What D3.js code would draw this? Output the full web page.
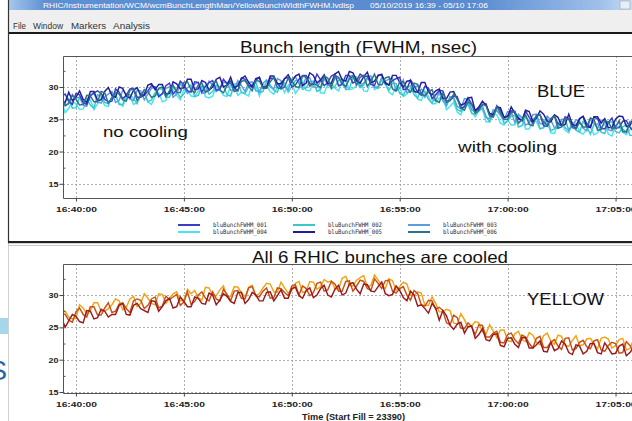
<!DOCTYPE html>
<html><head><meta charset="utf-8">
<script src="https://cdn.jsdelivr.net/npm/d3@7"></script>
<style>html,body{margin:0;padding:0;background:#fff;overflow:hidden}svg{display:block}</style>
</head><body>
<svg id="c" width="632" height="421"></svg>
<script>
// ---------------- data ----------------
const sampleStart = "16:39:20";
const sampleStepSec = 10;
const xTickLabels = ["16:40:00","16:45:00","16:50:00","16:55:00","17:00:00","17:05:00"];
const yTickValues = [15, 20, 25, 30];
const yMinorValues = [17.5, 22.5, 27.5, 32.5];

const blueNames = ["bluBunchFWHM_001","bluBunchFWHM_002","bluBunchFWHM_003","bluBunchFWHM_004","bluBunchFWHM_005","bluBunchFWHM_006"];
const blueColors = ["#3c3cc8","#3cc8c8","#5a9ee0","#48e4f4","#1e1e9c","#2c7484"];

const blu001 = [28.6,28.9,27.8,27.3,29.0,28.8,27.6,27.3,28.6,29.1,29.4,29.0,28.1,27.7,27.8,29.7,29.2,28.2,28.7,29.7,
29.8,28.4,28.4,28.7,29.4,30.2,30.0,28.5,29.0,30.2,30.6,28.9,29.5,30.9,30.3,29.4,29.2,30.8,30.7,29.2,
30.1,30.7,31.0,29.5,29.6,31.2,30.5,30.9,29.9,29.4,31.4,31.2,30.2,30.0,31.0,31.5,29.8,29.8,31.4,31.3,
30.6,29.8,31.3,31.5,30.0,30.3,31.2,31.8,31.8,30.5,30.4,32.0,31.1,30.2,30.7,31.7,32.0,30.2,30.4,31.8,
31.8,30.6,31.0,32.0,31.6,31.7,30.4,30.2,31.8,32.0,30.5,30.3,31.0,31.3,31.5,29.6,29.7,31.1,30.2,29.2,
28.7,30.1,29.8,28.2,28.8,29.5,29.4,27.8,27.9,28.6,28.5,26.7,26.9,28.3,27.4,26.3,26.6,27.3,27.4,25.6,
25.4,27.1,26.4,25.3,25.5,26.3,26.2,25.0,24.8,26.3,25.3,24.4,25.6,25.7,24.0,23.9,25.1,25.6,24.3,24.0,
25.4,25.1,24.0,23.6,25.1,25.5,24.3,23.8,25.3,25.1,23.6,23.5,24.5,25.2,23.6,23.7,24.7,24.8,23.8,23.1,
24.8];
const blu002 = [27.2,27.8,28.2,26.7,26.8,28.4,27.8,28.2,27.2,26.7,28.8,28.6,27.6,27.4,28.4,28.9,27.3,27.3,28.9,28.8,
28.2,27.4,29.0,29.2,27.7,28.0,29.1,29.7,29.7,28.4,28.4,30.0,29.3,28.4,28.9,29.9,30.3,28.5,28.7,30.1,
30.1,28.9,29.3,30.3,30.0,30.1,28.8,28.6,30.4,30.6,29.2,29.0,30.0,30.4,30.8,29.1,29.3,30.9,30.3,29.5,
29.2,30.8,30.6,29.2,30.1,31.0,31.0,29.6,29.9,30.8,30.9,29.3,29.6,31.2,30.6,29.7,30.1,31.0,31.3,29.6,
29.7,31.5,30.9,29.9,30.3,31.2,31.2,30.0,29.8,31.3,30.4,29.5,30.6,30.5,29.0,28.7,29.9,30.2,28.8,28.3,
29.7,29.2,28.1,27.5,28.8,29.0,27.8,27.1,28.5,28.1,26.5,26.2,27.1,27.6,25.9,25.8,26.7,26.6,25.5,24.6,
26.2,26.3,25.9,24.4,24.7,25.5,25.6,23.8,24.0,25.4,24.7,25.0,25.3,23.5,23.7,25.2,23.2,23.5,24.4,24.8,
23.7,23.2,24.5,23.3,23.0,24.7,23.8,22.7,24.2,24.3,23.0,22.8,24.5,24.6,23.1,22.9,23.8,24.2,22.5,22.5,
24.0];
const blu003 = [28.3,27.1,27.6,28.6,28.3,28.4,27.2,27.0,28.8,29.0,27.7,27.5,28.5,28.9,29.3,27.6,27.9,29.5,28.9,28.1,
27.9,29.5,29.4,28.0,28.9,29.8,30.0,28.6,28.9,29.8,30.0,28.4,28.9,30.5,29.9,29.0,29.5,30.4,30.7,29.0,
29.1,30.9,30.3,29.3,29.8,30.7,30.7,29.5,29.5,31.0,30.2,29.3,30.7,30.8,29.4,29.3,30.6,31.1,30.0,29.7,
31.3,31.0,30.0,29.6,31.2,31.6,30.5,30.0,31.6,31.4,30.0,29.9,30.9,31.6,30.2,30.3,31.3,31.4,30.5,29.8,
31.6,31.8,31.5,30.1,30.6,31.5,31.7,29.9,30.1,31.5,30.9,31.2,31.4,29.4,29.8,31.1,29.1,29.2,30.0,30.2,
29.1,28.4,29.7,28.3,27.8,29.3,28.4,27.1,28.5,28.4,27.0,26.6,28.2,28.1,26.5,26.1,26.9,27.1,25.3,25.1,
26.5,26.3,25.6,24.9,26.2,26.2,24.5,25.8,25.3,24.1,24.4,25.7,25.8,24.3,24.3,25.5,24.9,23.7,23.6,25.0,
25.0,23.3,24.0,24.9,24.7,23.6,23.2,25.0,24.4,23.6,24.8,25.0,23.4,23.2,24.0,24.5,23.5,23.0,24.7,24.5,
23.1];
const blu004 = [27.8,26.0,26.7,27.7,27.4,26.5,26.6,27.8,28.0,26.5,27.4,28.3,27.1,27.0,28.6,28.7,27.5,27.0,28.3,28.6,
27.3,27.6,28.7,29.1,27.7,27.3,28.6,29.1,27.7,27.9,29.4,29.5,28.7,28.0,29.6,29.5,28.6,28.5,29.4,30.1,
28.5,28.3,28.6,30.0,29.6,28.7,28.5,30.3,30.1,28.7,29.2,28.9,28.6,30.4,30.1,28.6,30.5,30.2,29.3,28.9,
30.0,30.5,29.1,30.3,30.7,29.0,29.8,30.9,29.5,29.4,30.6,30.8,29.1,29.0,30.5,30.7,29.8,29.4,31.0,31.0,
29.6,29.7,30.3,30.9,29.4,29.3,30.9,29.6,29.9,31.1,30.5,29.2,28.8,30.1,29.9,28.5,28.9,29.9,29.7,28.1,
27.9,29.4,28.5,27.4,27.4,28.3,28.5,26.5,27.0,27.6,26.1,25.7,27.2,27.2,26.1,25.4,26.3,26.6,24.6,24.6,
25.9,25.7,24.4,24.1,24.9,24.1,24.1,25.5,25.2,23.5,23.5,24.9,24.6,23.5,23.7,24.7,22.9,22.8,24.3,24.2,
23.3,22.9,24.4,24.4,23.0,22.7,23.5,24.0,22.6,22.9,23.7,24.3,22.7,22.4,23.9,23.9,23.0,22.6,23.4,23.9,
22.2];
const blu005 = [27.6,27.6,29.2,27.9,28.4,29.4,28.1,27.6,29.3,29.3,27.9,28.0,29.3,29.9,28.7,28.4,30.0,29.8,28.6,28.3,
29.5,29.9,28.7,28.8,30.3,30.5,29.6,30.4,30.4,28.9,29.0,30.8,30.5,29.7,29.9,31.2,31.2,29.6,29.7,31.0,
30.7,29.5,30.0,31.2,31.5,30.0,30.3,31.5,29.9,30.2,31.3,31.7,30.7,30.0,31.3,31.5,30.0,30.0,31.7,31.7,
30.5,30.5,31.3,31.9,30.8,31.7,32.0,30.2,30.6,32.2,31.8,30.6,31.1,31.9,30.5,30.6,32.0,32.4,31.1,30.9,
32.4,32.2,31.0,30.6,31.6,32.3,30.7,30.9,31.8,31.9,30.7,30.3,31.8,31.8,30.7,30.0,30.9,31.0,29.3,29.2,
30.7,30.7,29.2,28.8,29.4,29.7,28.2,28.2,29.2,29.3,28.1,27.2,27.4,28.3,28.4,26.3,26.9,27.8,27.2,25.9,
25.7,26.9,26.8,25.3,25.4,26.9,25.9,25.2,24.8,26.4,26.2,24.7,25.2,26.3,25.8,24.7,24.6,25.7,25.3,24.0,
24.2,25.8,24.2,24.0,25.1,25.4,23.9,23.7,25.4,25.4,24.4,25.1,23.7,23.7,25.0,25.5,25.4,23.9,24.0,25.2,
24.6];
const blu006 = [28.7,27.1,27.4,28.8,28.1,27.2,27.3,28.7,28.6,27.7,27.7,29.3,29.1,27.5,28.3,29.2,28.9,28.0,27.8,29.5,
29.7,27.9,28.6,29.6,29.3,28.4,28.6,29.8,30.0,28.5,29.4,30.3,29.2,29.1,30.7,30.8,29.6,29.1,30.3,30.6,
29.2,29.5,30.5,30.9,29.5,29.1,30.2,30.7,29.3,29.5,30.9,31.0,30.1,29.4,31.0,30.9,29.9,29.8,30.8,31.5,
29.9,29.7,30.0,31.4,31.0,30.1,29.9,31.7,31.5,30.1,30.6,30.3,29.9,31.7,31.4,29.9,31.8,31.5,30.5,30.1,
31.2,31.7,30.3,31.5,31.8,30.1,30.9,32.0,30.4,30.3,31.4,31.6,29.7,29.4,30.8,30.8,29.8,29.2,30.6,30.4,
28.8,28.7,29.2,29.6,27.9,27.6,29.1,27.6,27.9,28.9,28.2,26.7,26.4,27.7,27.3,25.9,26.3,27.3,27.1,25.5,
25.3,26.9,26.0,25.0,25.0,26.0,26.2,24.4,24.9,25.7,24.2,24.0,25.5,25.7,24.6,24.1,25.0,25.5,23.6,23.8,
25.1,25.0,23.7,23.5,24.5,23.8,23.8,25.2,25.0,23.3,23.4,24.8,24.6,23.5,23.8,24.8,23.1,23.0,24.5,24.4,
23.6];

const yellowColors = ["#f0a412","#c8501a","#9a1a1c"];
const yel1 = [27.8,27.5,26.6,26.3,26.4,28.5,28.0,27.1,27.6,28.8,28.8,27.5,27.5,27.9,28.5,29.4,29.1,27.7,28.1,29.4,
29.8,28.2,28.7,30.2,29.5,28.7,28.5,30.2,30.1,28.7,29.5,30.2,30.5,29.1,29.2,30.9,30.2,30.7,29.6,29.2,
31.2,31.1,30.0,29.9,30.8,31.4,29.7,29.8,31.3,31.2,30.4,29.7,31.2,31.5,29.9,30.2,31.1,31.8,31.7,30.5,
30.4,32.0,31.1,30.3,30.7,31.8,32.1,30.4,30.6,32.1,32.0,30.9,31.3,32.4,32.0,32.2,31.0,30.9,32.6,32.9,
31.5,31.4,32.3,32.7,33.0,31.3,31.5,33.1,32.3,31.5,31.0,32.5,32.2,30.7,31.3,32.0,31.7,30.0,29.9,30.5,
30.3,28.4,28.4,29.7,28.7,27.4,27.4,27.8,27.6,25.7,25.5,27.1,26.2,25.0,25.2,25.9,25.7,24.3,24.0,25.4,
24.4,23.4,24.6,24.6,23.0,22.8,24.0,24.4,23.1,22.8,24.2,23.8,22.7,22.3,23.7,24.1,22.9,22.4,23.8,23.6,
22.2,22.1,23.0,23.7,22.2,22.3,23.2,23.3,22.4,21.7,23.3,23.5,23.2,21.8,22.2,23.1,23.3,21.5,21.7,23.1,
22.6];
const yel3 = [27.2,27.0,26.1,25.8,27.4,28.0,27.0,26.6,28.2,28.2,26.9,26.9,28.0,28.8,27.3,27.5,28.6,28.8,27.9,27.3,
29.1,29.4,29.2,27.9,28.4,29.4,29.7,28.0,28.3,29.8,29.3,29.7,30.1,28.4,28.9,30.5,28.6,29.0,30.0,30.5,
29.5,29.1,30.5,29.4,29.1,30.9,30.1,29.1,30.6,30.7,29.5,29.4,31.1,31.3,29.9,29.7,30.6,31.1,29.5,29.6,
31.1,31.0,30.4,29.9,31.4,31.6,30.0,31.4,31.0,29.9,30.4,31.8,32.0,30.6,30.8,32.1,31.7,30.6,30.6,32.1,
32.2,30.6,31.4,32.3,32.1,31.0,30.7,32.5,31.8,31.0,32.2,32.3,30.6,30.3,31.0,31.3,30.0,29.2,30.7,30.2,
28.5,28.3,29.2,29.1,27.8,28.1,27.6,25.7,25.4,26.9,26.5,24.9,24.8,25.7,25.1,23.9,25.4,25.3,23.5,23.5,
24.1,24.4,22.7,22.6,23.9,24.1,23.1,22.5,23.8,23.5,22.5,21.8,23.3,23.6,21.9,21.9,22.7,23.1,22.1,21.6,
23.3,23.4,21.5,21.7,22.7,23.0,22.0,21.7,22.9,23.1,21.5,21.3,22.2,22.7,22.5,21.0,21.1,22.8,22.2,21.2,
21.5];
const yel2 = [26.5,25.0,26.0,27.0,26.7,25.9,25.7,27.6,27.5,26.3,26.5,27.8,27.5,26.6,27.0,27.0,28.4,28.7,27.0,26.9,
28.4,28.7,27.9,27.6,27.3,29.1,29.0,27.5,28.2,29.1,29.5,28.0,28.2,29.7,29.0,28.2,28.2,29.7,29.5,28.7,
28.6,30.3,30.0,28.5,29.2,30.2,29.8,29.0,28.7,30.4,30.4,28.7,29.3,30.4,30.0,29.1,29.1,30.4,30.5,29.1,
29.9,30.8,29.5,29.5,31.0,31.2,29.9,29.5,30.7,31.1,29.6,30.0,31.0,31.5,30.0,29.7,30.9,31.5,30.0,30.3,
31.7,31.9,30.9,30.2,31.7,31.6,30.6,30.5,31.3,32.0,30.2,29.9,30.1,31.4,30.7,29.6,29.1,30.6,30.0,28.3,
28.5,27.9,27.2,28.7,28.0,26.1,27.6,26.8,25.3,24.7,25.5,25.8,24.1,25.1,25.2,23.3,23.9,24.8,23.1,22.9,
23.9,24.0,22.2,22.0,23.3,23.4,22.4,21.9,23.4,23.4,21.8,21.8,22.3,22.9,21.3,21.2,22.7,21.4,21.7,22.9,
22.4,21.1,20.8,22.3,22.1,20.9,21.3,22.5,22.5,21.1,20.9,22.6,21.8,20.9,21.0,22.1,22.4,20.6,21.1,21.9,
20.6];

// ---------------- drawing ----------------
const svg = d3.select("#c");
const SANS = "'Liberation Sans', Arial, Helvetica, sans-serif";
const parse = d3.timeParse("%H:%M:%S");
const t0 = parse(sampleStart);
const times = blu001.map((_, i) => new Date(+t0 + i * sampleStepSec * 1000));
const tickDates = xTickLabels.map(parse);

function txt(g, s, x, y, o) {
  const t = g.append("text").attr("x", x).attr("y", y).text(s)
    .attr("font-family", o.ff || SANS).attr("font-size", o.fs)
    .attr("fill", o.fill || "#111");
  if (o.anchor) t.attr("text-anchor", o.anchor);
  if (o.fw) t.attr("font-weight", o.fw);
  if (o.w) t.attr("textLength", o.w).attr("lengthAdjust", "spacingAndGlyphs");
  return t;
}

// slide background pieces at left
svg.append("rect").attr("x", 0).attr("y", 0).attr("width", 632).attr("height", 421).attr("fill", "#fff");
svg.append("rect").attr("x", 0).attr("y", 318).attr("width", 8).attr("height", 16).attr("fill", "#a6d6ec");
txt(svg, "S", 7, 380, {fs: 27, fill: "#2462a8", anchor: "end"});

// window title bar
const defs = svg.append("defs");
const grad = defs.append("linearGradient").attr("id", "tb").attr("x1", 0).attr("x2", 1).attr("y1", 0).attr("y2", 0);
grad.append("stop").attr("offset", "0").attr("stop-color", "#a9c8ec");
grad.append("stop").attr("offset", "0.06").attr("stop-color", "#5d8fd2");
grad.append("stop").attr("offset", "0.75").attr("stop-color", "#5a8bd0");
grad.append("stop").attr("offset", "0.95").attr("stop-color", "#9fc0ea");
grad.append("stop").attr("offset", "1").attr("stop-color", "#c9dcf3");
svg.append("rect").attr("x", 8).attr("y", 0).attr("width", 624).attr("height", 10).attr("fill", "url(#tb)");
txt(svg, "RHIC/Instrumentation/WCM/wcmBunchLengthMan/YellowBunchWidthFWHM.lvdisp", 43, 8, {fs: 8, fill: "#fff", w: 311});
txt(svg, "05/10/2019 16:39 - 05/10 17:06", 370, 8, {fs: 8, fill: "#fff", w: 118});
svg.append("rect").attr("x", 620).attr("y", 1).attr("width", 10).attr("height", 8)
  .attr("fill", "#e8eef6").attr("stroke", "#8899aa").attr("stroke-width", 0.5);

// menu bar
svg.append("rect").attr("x", 8).attr("y", 10).attr("width", 624).attr("height", 22).attr("fill", "#efefef");
[["File", 13, 13], ["Window", 33, 30], ["Markers", 71, 35], ["Analysis", 113, 37]].forEach(m =>
  txt(svg, m[0], m[1], 29, {fs: 9.5, fill: "#333", w: m[2]}));
svg.append("rect").attr("x", 8).attr("y", 32).attr("width", 624).attr("height", 2).attr("fill", "#1a1a1a");

// window left border and panel separator
svg.append("line").attr("x1", 8.5).attr("x2", 8.5).attr("y1", 0).attr("y2", 243).attr("stroke", "#333").attr("stroke-width", 1.2);
svg.append("line").attr("x1", 8.5).attr("x2", 8.5).attr("y1", 243).attr("y2", 421).attr("stroke", "#cfcfcf").attr("stroke-width", 1);
svg.append("rect").attr("x", 8).attr("y", 241).attr("width", 624).attr("height", 2.2).attr("fill", "#222");
svg.append("line").attr("x1", 8).attr("x2", 632).attr("y1", 245.5).attr("y2", 245.5).attr("stroke", "#c8c8c8");

const xScale = d3.scaleTime().domain([parse("16:39:24"), parse("17:06:08")]).range([63, 640]);

function panel(cfg) {
  const g = svg.append("g");
  const y = d3.scaleLinear().domain(cfg.ydom).range([cfg.bottom, cfg.top]);
  const cid = "clip" + cfg.id;
  defs.append("clipPath").attr("id", cid).append("rect")
    .attr("x", 63).attr("y", cfg.top).attr("width", 640 - 63).attr("height", cfg.bottom - cfg.top);

  // grid
  const grid = g.append("g").attr("stroke", "#9a9a9a").attr("stroke-width", 0.8).attr("stroke-dasharray", "2,2");
  grid.selectAll(".gy").data(yTickValues).join("line")
    .attr("x1", 63).attr("x2", 640).attr("y1", d => Math.round(y(d)) + 0.5).attr("y2", d => Math.round(y(d)) + 0.5);
  grid.selectAll(".gx").data(tickDates).join("line")
    .attr("y1", cfg.top).attr("y2", cfg.bottom).attr("x1", d => Math.round(xScale(d)) + 0.5).attr("x2", d => Math.round(xScale(d)) + 0.5);

  // series
  const line = d3.line().x((d, i) => xScale(times[i])).y(d => y(d));
  const lg = g.append("g").attr("clip-path", `url(#${cid})`);
  cfg.series.forEach(s => {
    lg.append("path").datum(s.values).attr("d", line).attr("fill", "none")
      .attr("stroke", s.color).attr("stroke-width", 1.45).attr("stroke-linejoin", "miter");
  });

  // frame
  g.append("path").attr("d", `M640,${cfg.top + 0.5}H63.5V${cfg.bottom + 0.5}H640`)
    .attr("fill", "none").attr("stroke", "#555").attr("stroke-width", 1);

  // y axis
  const ya = g.append("g").attr("transform", "translate(63.5,0)")
    .call(d3.axisLeft(y).tickValues(yTickValues).tickSize(4).tickPadding(1).tickFormat(d3.format("d")));
  ya.select(".domain").remove();
  ya.selectAll("line").attr("stroke", "#444");
  ya.selectAll("text").attr("font-family", SANS).attr("font-size", 8).attr("font-weight", "bold")
    .attr("fill", "#222").attr("textLength", 10).attr("lengthAdjust", "spacingAndGlyphs");
  const ym = g.append("g").attr("transform", "translate(63.5,0)")
    .call(d3.axisRight(y).tickValues(yMinorValues).tickSize(2).tickFormat(""));
  ym.select(".domain").remove();
  ym.selectAll("line").attr("stroke", "#555");

  // x axis
  const xa = g.append("g").attr("transform", `translate(0,${cfg.bottom + 0.5})`)
    .call(d3.axisBottom(xScale).tickValues(tickDates).tickSize(3).tickPadding(5).tickFormat(d3.timeFormat("%H:%M:%S")));
  xa.select(".domain").remove();
  xa.selectAll("line").attr("stroke", "#444");
  xa.selectAll("text").attr("font-family", SANS).attr("font-size", 8).attr("font-weight", "bold")
    .attr("fill", "#222").attr("textLength", 41).attr("lengthAdjust", "spacingAndGlyphs");
  return {g, y};
}

// top (BLUE) panel
const bluePanel = panel({
  id: "b", top: 56, bottom: 198, ydom: [12.8, 34.8],
  series: [
    {values: blu004, color: blueColors[3]},
    {values: blu002, color: blueColors[1]},
    {values: blu003, color: blueColors[2]},
    {values: blu001, color: blueColors[0]},
    {values: blu005, color: blueColors[4]},
    {values: blu006, color: blueColors[5]}
  ]
});
txt(svg, "Bunch length (FWHM, nsec)", 240, 53, {fs: 16.5, w: 237});
txt(svg, "no cooling", 103, 137, {fs: 15.5, w: 85});
txt(svg, "with cooling", 458, 152, {fs: 15.5, w: 99});
txt(svg, "BLUE", 537, 97, {fs: 16, w: 48});

// legend
const legCols = [178, 293, 408];
const legRows = [225, 232];
const leg = svg.append("g");
blueNames.forEach((n, k) => {
  const lx = legCols[k % 3], ly = legRows[Math.floor(k / 3)];
  leg.append("line").attr("x1", lx).attr("x2", lx + 22).attr("y1", ly).attr("y2", ly)
    .attr("stroke", blueColors[k]).attr("stroke-width", 2);
  txt(leg, n, lx + 35, ly + 2.2, {fs: 6.2, ff: "'DejaVu Sans Mono', monospace", fill: "#2a2a3a", w: 54});
});

// bottom (YELLOW) panel
const yellowPanel = panel({
  id: "y", top: 264, bottom: 393, ydom: [14.85, 34.8],
  series: [
    {values: yel1, color: yellowColors[0]},
    {values: yel3, color: yellowColors[1]},
    {values: yel2, color: yellowColors[2]}
  ]
});
txt(svg, "All 6 RHIC bunches are cooled", 252, 263, {fs: 16.5, w: 256});
txt(svg, "YELLOW", 527, 305, {fs: 16, w: 77});
txt(svg, "Time (Start Fill = 23390)", 302, 420, {fs: 8.5, fw: "bold", fill: "#222", w: 103});
</script>
</body></html>
